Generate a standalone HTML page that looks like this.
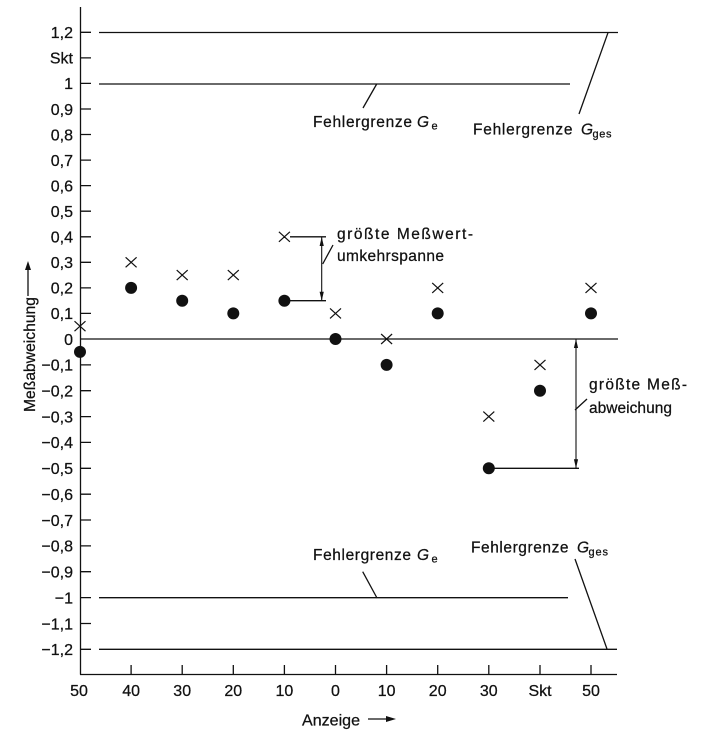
<!DOCTYPE html>
<html><head><meta charset="utf-8"><style>
html,body{margin:0;padding:0;background:#fff;}
svg{display:block;}
text{font-family:"Liberation Sans",sans-serif;fill:#111;stroke:#111;stroke-width:0.25;}
</style></head><body>
<svg width="725" height="740" viewBox="0 0 725 740" xmlns="http://www.w3.org/2000/svg">
<g stroke="#111" stroke-width="1.3" fill="none">
<line x1="80.5" y1="7" x2="80.5" y2="674.5"/>
<line x1="80" y1="674.5" x2="617" y2="674.5"/>
<path d="M80 32.3H91M80 57.9H91M80 83.4H91M80 109H91M80 134.5H91M80 160.1H91M80 185.6H91M80 211.2H91M80 236.8H91M80 262.3H91M80 287.9H91M80 313.4H91M80 364.9H91M80 390.7H91M80 416.6H91M80 442.4H91M80 468.3H91M80 494.2H91M80 520H91M80 545.9H91M80 571.7H91M80 597.6H91M80 623.5H91M80 649.3H91"/>
<path d="M131.1 674V665M182.2 674V665M233.3 674V665M284.4 674V665M335.5 674V665M386.6 674V665M437.7 674V665M488.8 674V665M540 674V665M591 674V665"/>
<line x1="99" y1="32.5" x2="618" y2="32.5"/>
<line x1="99" y1="84" x2="570" y2="84"/>
<line x1="99" y1="597.7" x2="568" y2="597.7"/>
<line x1="99" y1="649.3" x2="617" y2="649.3"/>
<line x1="80" y1="339" x2="618" y2="339"/>
<line x1="376.7" y1="84" x2="363" y2="108"/>
<line x1="608" y1="32.7" x2="579" y2="114"/>
<line x1="362.7" y1="571.7" x2="377" y2="598"/>
<line x1="575" y1="559" x2="607" y2="649"/>
<line x1="322.7" y1="264" x2="333" y2="245"/>
<line x1="575" y1="410" x2="587" y2="399"/>
<line x1="290" y1="236.8" x2="326" y2="236.8"/>
<line x1="285" y1="300.7" x2="326" y2="300.7"/>
<line x1="321.7" y1="237" x2="321.7" y2="300.7" stroke-width="1.1"/>
<line x1="489" y1="468.3" x2="579" y2="468.3"/>
<line x1="576" y1="339" x2="576" y2="468.3" stroke-width="1.1"/>
<line x1="28" y1="296" x2="28" y2="268"/>
<line x1="368" y1="719" x2="389" y2="719"/>
<path stroke-width="1.2" d="
M74.5 321.2L85.5 331.2M74.5 331.2L85.5 321.2
M125.6 257.3L136.6 267.3M125.6 267.3L136.6 257.3
M176.7 270.1L187.7 280.1M176.7 280.1L187.7 270.1
M227.8 270.1L238.8 280.1M227.8 280.1L238.8 270.1
M278.9 231.8L289.9 241.8M278.9 241.8L289.9 231.8
M330 308.4L341 318.4M330 318.4L341 308.4
M381.1 334L392.1 344M381.1 344L392.1 334
M432.2 282.9L443.2 292.9M432.2 292.9L443.2 282.9
M483.3 411.6L494.3 421.6M483.3 421.6L494.3 411.6
M534.5 359.9L545.5 369.9M534.5 369.9L545.5 359.9
M585.5 282.9L596.5 292.9M585.5 292.9L596.5 282.9"/>
</g>
<g fill="#111">
<path d="M321.7 237L319.6 246L323.8 246Z"/>
<path d="M321.7 300.7L319.6 291.7L323.8 291.7Z"/>
<path d="M576 339L573.9 348L578.1 348Z"/>
<path d="M576 468.3L573.9 459.3L578.1 459.3Z"/>
<path d="M28 261L25 270L31 270Z"/>
<path d="M396 719L386 716L386 722Z"/>
</g>
<g fill="#111">
<circle cx="80" cy="351.9" r="6"/>
<circle cx="131.1" cy="287.9" r="6"/>
<circle cx="182.2" cy="300.7" r="6"/>
<circle cx="233.3" cy="313.4" r="6"/>
<circle cx="284.4" cy="300.7" r="6"/>
<circle cx="335.5" cy="339" r="6"/>
<circle cx="386.6" cy="364.9" r="6"/>
<circle cx="437.7" cy="313.4" r="6"/>
<circle cx="488.8" cy="468.3" r="6"/>
<circle cx="540" cy="390.7" r="6"/>
<circle cx="591" cy="313.4" r="6"/>
</g>
<g font-size="16" text-anchor="end">
<text x="73" y="38.1">1,2</text>
<text x="73" y="63.7">Skt</text>
<text x="73" y="89.2">1</text>
<text x="73" y="114.8">0,9</text>
<text x="73" y="140.3">0,8</text>
<text x="73" y="165.9">0,7</text>
<text x="73" y="191.4">0,6</text>
<text x="73" y="217">0,5</text>
<text x="73" y="242.6">0,4</text>
<text x="73" y="268.1">0,3</text>
<text x="73" y="293.7">0,2</text>
<text x="73" y="319.2">0,1</text>
<text x="73" y="344.8">0</text>
<text x="73" y="370.7">−0,1</text>
<text x="73" y="396.5">−0,2</text>
<text x="73" y="422.4">−0,3</text>
<text x="73" y="448.2">−0,4</text>
<text x="73" y="474.1">−0,5</text>
<text x="73" y="500">−0,6</text>
<text x="73" y="525.8">−0,7</text>
<text x="73" y="551.7">−0,8</text>
<text x="73" y="577.5">−0,9</text>
<text x="73" y="603.4">−1</text>
<text x="73" y="629.3">−1,1</text>
<text x="73" y="655.1">−1,2</text>
</g>
<g font-size="16" text-anchor="middle">
<text x="79" y="696">50</text>
<text x="131.1" y="696">40</text>
<text x="182.2" y="696">30</text>
<text x="233.3" y="696">20</text>
<text x="284.4" y="696">10</text>
<text x="335.5" y="696">0</text>
<text x="386.6" y="696">10</text>
<text x="437.7" y="696">20</text>
<text x="488.8" y="696">30</text>
<text x="540" y="696">Skt</text>
<text x="591" y="696">50</text>
</g>
<text x="302" y="725.5" font-size="16" textLength="58" lengthAdjust="spacingAndGlyphs">Anzeige</text>
<text transform="translate(35,412) rotate(-90)" font-size="16" textLength="115" lengthAdjust="spacingAndGlyphs">Meßabweichung</text>
<g font-size="15.5">
<text x="313" y="127" textLength="99" lengthAdjust="spacing">Fehlergrenze</text>
<text x="417" y="127" font-style="italic">G</text>
<text x="431.5" y="129.5" font-size="11">e</text>
<text x="473" y="134.5" textLength="99.5" lengthAdjust="spacing">Fehlergrenze</text>
<text x="581" y="134.5" font-style="italic">G</text>
<text x="592.5" y="137.5" font-size="11" textLength="19" lengthAdjust="spacing">ges</text>
<text x="313" y="560" textLength="98" lengthAdjust="spacing">Fehlergrenze</text>
<text x="417" y="560" font-style="italic">G</text>
<text x="431.5" y="562.5" font-size="11">e</text>
<text x="471" y="552.3" textLength="97.5" lengthAdjust="spacing">Fehlergrenze</text>
<text x="577" y="552.3" font-style="italic">G</text>
<text x="588.5" y="555.3" font-size="11" textLength="19.5" lengthAdjust="spacing">ges</text>
</g>
<g font-size="15.5">
<text x="337" y="239" textLength="136" lengthAdjust="spacing">größte Meßwert-</text>
<text x="337" y="261" textLength="107" lengthAdjust="spacing">umkehrspanne</text>
<text x="589" y="389.3" textLength="98" lengthAdjust="spacing">größte Meß-</text>
<text x="589" y="413" textLength="83" lengthAdjust="spacing">abweichung</text>
</g>
</svg>
</body></html>
